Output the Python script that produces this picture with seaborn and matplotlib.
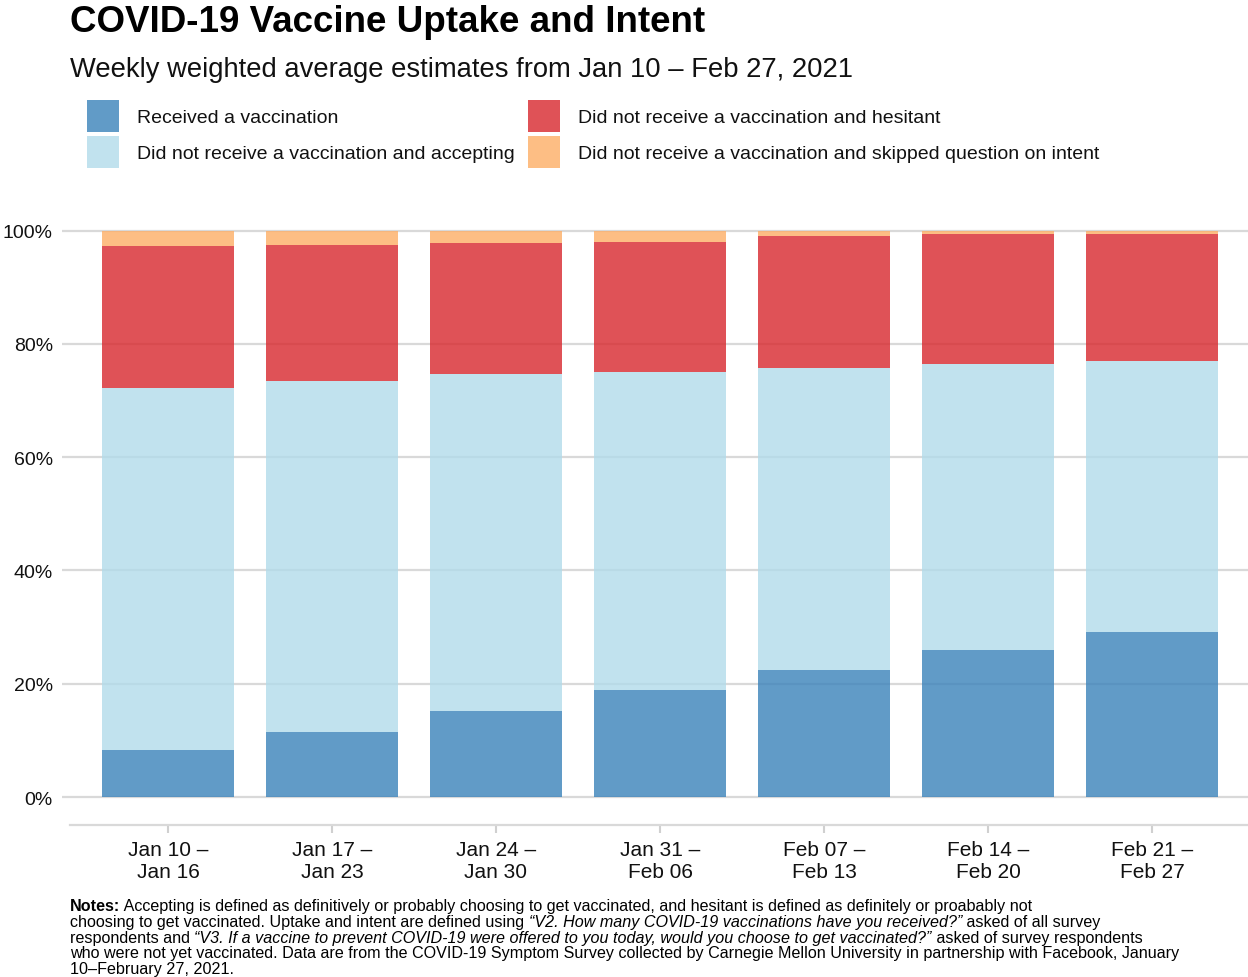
import seaborn as sns
import numpy as np
import matplotlib.pyplot as plt
import pandas as pd
from matplotlib.patches import Patch
from matplotlib.ticker import PercentFormatter

weeks = ["Jan 10 –\nJan 16", "Jan 17 –\nJan 23", "Jan 24 –\nJan 30", "Jan 31 –\nFeb 06",
         "Feb 07 –\nFeb 13", "Feb 14 –\nFeb 20", "Feb 21 –\nFeb 27"]
received = [8.3, 11.5, 15.2, 18.9, 22.5, 26.0, 29.1]
accepting = [64.0, 62.0, 59.5, 56.2, 53.3, 50.4, 47.9]
hesitant = [25.0, 24.0, 23.1, 22.9, 23.2, 23.0, 22.4]
skipped = [2.7, 2.5, 2.2, 2.0, 1.0, 0.6, 0.6]

groups = ["Received a vaccination",
          "Did not receive a vaccination and accepting",
          "Did not receive a vaccination and hesitant",
          "Did not receive a vaccination and skipped question on intent"]
colors = ["#3A82BA", "#B2DBEA", "#D8272D", "#FDAE66"]

df = pd.concat([
    pd.DataFrame({"week": weeks, "group": g, "pct": v})
    for g, v in zip(groups, [received, accepting, hesitant, skipped])
])

sns.set_style("white")
plt.rcParams["font.family"] = ["Liberation Sans", "DejaVu Sans"]

fig = plt.figure(figsize=(12.48, 9.78), dpi=100)
ax = fig.add_axes([62 / 1248, 1 - 826 / 978, 1 - 62 / 1248, 600 / 978])

# seaborn stacks the first hue level on top, so feed the order reversed
sns.histplot(data=df, x="week", weights="pct", hue="group", hue_order=groups[::-1],
             palette=dict(zip(groups, colors)), multiple="stack", discrete=True,
             shrink=0.8, alpha=0.8, linewidth=0, legend=False, ax=ax)

ax.set_xlim(-0.646, 6.585)
ax.set_ylim(-4.94, 101.0)
ax.set_yticks([0, 20, 40, 60, 80, 100])
ax.yaxis.set_major_formatter(PercentFormatter(100, decimals=0))
ax.set_xlabel("")
ax.set_ylabel("")
ax.set_axisbelow(True)
ax.yaxis.grid(True, color="#d9d9d9", linewidth=1.6)
ax.xaxis.grid(False)
for s in ["top", "right", "left"]:
    ax.spines[s].set_visible(False)
ax.spines["bottom"].set_color("#d9d9d9")
ax.spines["bottom"].set_linewidth(1.6)
ax.spines["bottom"].set_bounds(-0.6, 6.585)
ax.tick_params(axis="x", length=6, width=1.5, color="#d0d0d0", labelsize=15, pad=5,
               labelcolor="#111111", bottom=True)
ax.tick_params(axis="y", length=0, labelsize=14, pad=6.5, labelcolor="#111111")

fig.text(70 / 1248, 1 - 32 / 978, "COVID-19 Vaccine Uptake and Intent", fontsize=26.5,
         fontweight="bold", va="baseline", ha="left", color="black")
fig.text(70 / 1248, 1 - 77 / 978, "Weekly weighted average estimates from Jan 10 – Feb 27, 2021",
         fontsize=19.7, va="baseline", ha="left", color="#111111")

handles = [Patch(facecolor=c, alpha=0.8, edgecolor="none") for c in colors]
fig.legend(handles, groups, ncol=2, loc="upper left", bbox_to_anchor=(87 / 1248, 1 - 101 / 978),
           frameon=False, fontsize=14, handlelength=1.62, handleheight=2.15,
           handletextpad=0.95, columnspacing=0.7, labelspacing=0.2,
           borderpad=0, borderaxespad=0, labelcolor="#111111")

# notes with mixed bold / italic pieces
notes = [
    [("Notes:", "normal", "bold"),
     (" Accepting is defined as definitively or probably choosing to get vaccinated, and hesitant is defined as definitely or proabably not", "normal", "normal")],
    [("choosing to get vaccinated. Uptake and intent are defined using ", "normal", "normal"),
     ("“V2. How many COVID-19 vaccinations have you received?”", "italic", "normal"),
     (" asked of all survey", "normal", "normal")],
    [("respondents and ", "normal", "normal"),
     ("“V3. If a vaccine to prevent COVID-19 were offered to you today, would you choose to get vaccinated?”", "italic", "normal"),
     (" asked of survey respondents", "normal", "normal")],
    [("who were not yet vaccinated. Data are from the COVID-19 Symptom Survey collected by Carnegie Mellon University in partnership with Facebook, January", "normal", "normal")],
    [("10–February 27, 2021.", "normal", "normal")],
]
renderer = fig.canvas.get_renderer()
W = fig.get_figwidth() * fig.dpi
for i, line in enumerate(notes):
    x = 70 / 1248
    y = 1 - (911 + 15.8 * i) / 978
    for txt, style, weight in line:
        t = fig.text(x, y, txt, fontsize=11.65, style=style, fontweight=weight,
                     va="baseline", ha="left", color="black")
        x += t.get_window_extent(renderer).width / W

fig.savefig("out.png", dpi=100)
